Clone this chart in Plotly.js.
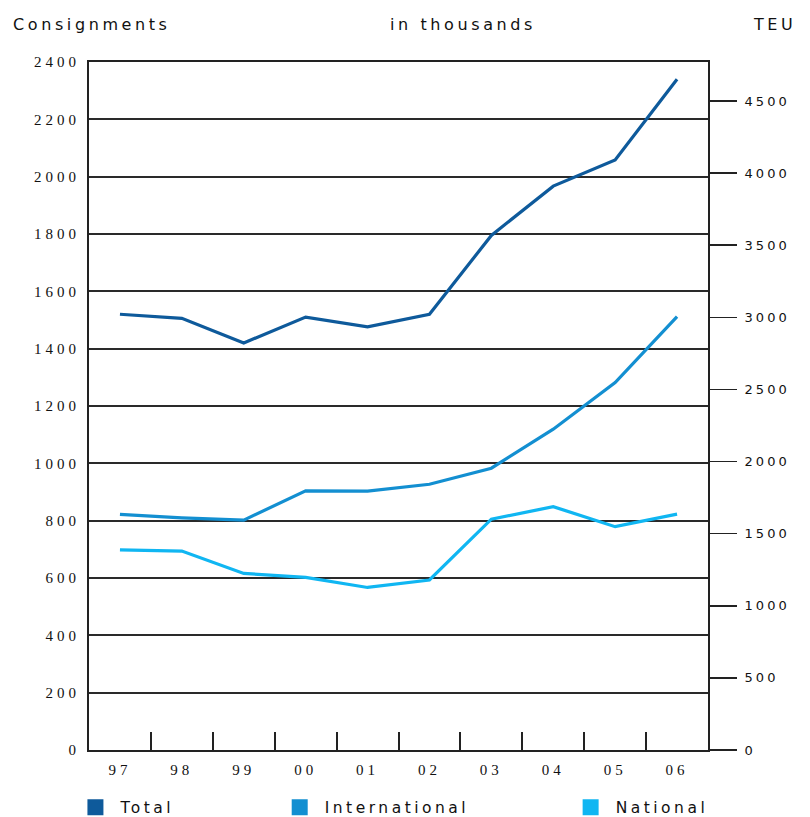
<!DOCTYPE html>
<html>
<head>
<meta charset="utf-8">
<script src="https://cdn.plot.ly/plotly-3.0.1.min.js"></script>
<style>
  html, body { margin: 0; padding: 0; background: #fff; }
  #chart { width: 810px; height: 817px; }
  .y2tick text { letter-spacing: 3px; }
  .xtick text, .ytick text { letter-spacing: 4px; }
  text[class*="legend"] { letter-spacing: 3.5px; }
  .annotation-text { letter-spacing: 3.6px; }
</style>
</head>
<body>
<div id="chart"></div>
<script>
const years = ['97', '98', '99', '00', '01', '02', '03', '04', '05', '06'];
const total = [1520, 1506, 1420, 1510, 1476, 1520, 1795, 1967, 2058, 2340];
const international = [822, 810, 802, 904, 903, 927, 983, 1119, 1282, 1512];
const national = [698, 694, 616, 602, 567, 593, 805, 849, 779, 823];

const seriesNames = ['Total', 'International', 'National'];
const seriesColors = ['#0e5a9b', '#138fd1', '#10b6f2'];
const seriesValues = [total, international, national];

const headerLeft = 'Consignments';
const headerCenter = 'in thousands';
const headerRight = 'TEU';

const fontFam = 'DejaVu Sans, Liberation Sans, sans-serif';
const serifFam = 'Liberation Serif, DejaVu Serif, serif';

const traces = [];
seriesValues.forEach((vals, i) => {
  traces.push({
    type: 'scatter', mode: 'lines', x: years, y: vals,
    name: seriesNames[i], showlegend: false,
    line: { color: seriesColors[i], width: 3.2 },
    hoverinfo: 'x+y+name'
  });
});
// empty trace so the right-hand TEU axis is drawn
traces.push({
  type: 'scatter', mode: 'lines', x: years, y: years.map(() => null),
  yaxis: 'y2', showlegend: false, hoverinfo: 'skip', line: { width: 0 }
});
const legendIds = ['legend', 'legend2', 'legend3'];
seriesNames.forEach((n, i) => {
  traces.push({
    type: 'scatter', mode: 'markers', x: [null], y: [null],
    name: n, legend: legendIds[i], showlegend: true,
    marker: { symbol: 'square', size: 16, color: seriesColors[i] },
    hoverinfo: 'skip'
  });
});

const legendBase = {
  orientation: 'h', yanchor: 'middle', xanchor: 'left', y: -0.084,
  font: { family: fontFam, size: 15.5, color: '#111' },
  bgcolor: 'rgba(0,0,0,0)', borderwidth: 0, itemwidth: 40
};

const layout = {
  width: 810, height: 817,
  margin: { l: 89, r: 102, t: 62, b: 67, autoexpand: false },
  paper_bgcolor: '#fff', plot_bgcolor: '#fff',
  xaxis: {
    type: 'category', range: [-0.5, 9.5], fixedrange: true,
    tickson: 'boundaries', ticks: 'inside', ticklen: 18, tickwidth: 2, tickcolor: '#222',
    showline: true, linewidth: 2, linecolor: '#222', mirror: true,
    showgrid: false, zeroline: false, ticklabelstandoff: 5,
    tickfont: { family: serifFam, size: 15, color: '#111' }
  },
  yaxis: {
    range: [0, 2400], dtick: 200, tick0: 0, fixedrange: true,
    showgrid: true, gridcolor: '#2a2a2a', gridwidth: 2,
    ticks: '', ticklabelstandoff: 4,
    showline: true, linewidth: 2, linecolor: '#222', zeroline: false,
    tickfont: { family: serifFam, size: 15, color: '#111' }
  },
  yaxis2: {
    overlaying: 'y', side: 'right', anchor: 'x',
    range: [0, 4770], dtick: 500, tick0: 0, fixedrange: true,
    showgrid: false, ticks: 'outside', ticklen: 27, tickwidth: 1.5, tickcolor: '#222',
    showline: true, linewidth: 2, linecolor: '#222', zeroline: false, ticklabelstandoff: 5,
    tickfont: { family: fontFam, size: 13, color: '#111' }
  },
  legend: Object.assign({}, legendBase, { x: -0.03 }),
  legend2: Object.assign({}, legendBase, { x: 0.30 }),
  legend3: Object.assign({}, legendBase, { x: 0.77 }),
  annotations: [
    { text: headerLeft, xref: 'paper', yref: 'paper', x: -0.126, y: 1.054, xanchor: 'left', yanchor: 'middle', showarrow: false, font: { family: fontFam, size: 16, color: '#111' } },
    { text: headerCenter, xref: 'paper', yref: 'paper', x: 0.604, y: 1.054, xanchor: 'center', yanchor: 'middle', showarrow: false, font: { family: fontFam, size: 16, color: '#111' } },
    { text: headerRight, xref: 'paper', yref: 'paper', x: 1.069, y: 1.054, xanchor: 'left', yanchor: 'middle', showarrow: false, font: { family: fontFam, size: 16, color: '#111' } }
  ]
};

Plotly.newPlot('chart', traces, layout, { displayModeBar: false, staticPlot: true });
</script>
</body>
</html>
